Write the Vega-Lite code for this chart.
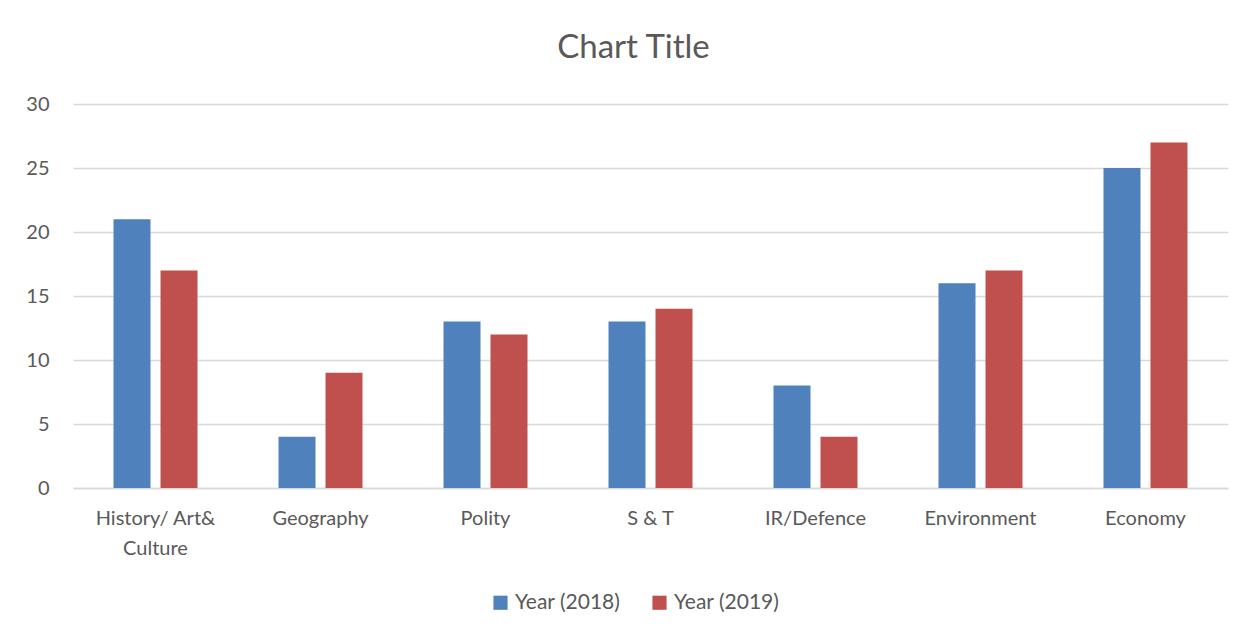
{
  "$schema": "https://vega.github.io/schema/vega-lite/v6.json",
  "width": 1155,
  "height": 384,
  "autosize": {"type": "none"},
  "padding": {"left": 73, "top": 104, "right": 24, "bottom": 147},
  "background": "white",
  "title": {
    "text": "Chart Title",
    "font": "Lato",
    "fontSize": 33,
    "fontWeight": "normal",
    "color": "#595959",
    "anchor": "middle",
    "dx": -17,
    "offset": 29
  },
  "data": {
    "values": [
      {"topic": "History/ Art& Culture", "series": "Year (2018)", "value": 21},
      {"topic": "History/ Art& Culture", "series": "Year (2019)", "value": 17},
      {"topic": "Geography", "series": "Year (2018)", "value": 4},
      {"topic": "Geography", "series": "Year (2019)", "value": 9},
      {"topic": "Polity", "series": "Year (2018)", "value": 13},
      {"topic": "Polity", "series": "Year (2019)", "value": 12},
      {"topic": "S & T", "series": "Year (2018)", "value": 13},
      {"topic": "S & T", "series": "Year (2019)", "value": 14},
      {"topic": "IR/Defence", "series": "Year (2018)", "value": 8},
      {"topic": "IR/Defence", "series": "Year (2019)", "value": 4},
      {"topic": "Environment", "series": "Year (2018)", "value": 16},
      {"topic": "Environment", "series": "Year (2019)", "value": 17},
      {"topic": "Economy", "series": "Year (2018)", "value": 25},
      {"topic": "Economy", "series": "Year (2019)", "value": 27}
    ]
  },
  "mark": {"type": "bar"},
  "encoding": {
    "x": {
      "field": "topic",
      "type": "nominal",
      "sort": null,
      "scale": {"paddingInner": 0.4909, "paddingOuter": 0.2455},
      "axis": {
        "title": null,
        "labelAngle": 0,
        "labelFont": "Lato",
        "labelFontSize": 20,
        "labelColor": "#595959",
        "labelPadding": 20,
        "labelLineHeight": 30,
        "labelExpr": "datum.label == 'History/ Art& Culture' ? ['History/ Art&', 'Culture'] : datum.label",
        "ticks": false,
        "domainColor": "#d9d9d9",
        "domainWidth": 1.5
      }
    },
    "xOffset": {
      "field": "series",
      "type": "nominal",
      "scale": {"paddingInner": 0.2128, "paddingOuter": 0}
    },
    "y": {
      "field": "value",
      "type": "quantitative",
      "scale": {"domain": [0, 30], "nice": false},
      "axis": {
        "title": null,
        "values": [0, 5, 10, 15, 20, 25, 30],
        "labelFont": "Lato",
        "labelFontSize": 20,
        "labelColor": "#595959",
        "labelPadding": 24,
        "ticks": false,
        "domain": false,
        "gridColor": "#d9d9d9",
        "gridWidth": 1.5
      }
    },
    "color": {
      "field": "series",
      "type": "nominal",
      "scale": {"domain": ["Year (2018)", "Year (2019)"], "range": ["#4f81bd", "#c0504d"]},
      "legend": {
        "title": null,
        "orient": "none",
        "direction": "horizontal",
        "legendX": 417,
        "legendY": 488,
        "symbolType": "square",
        "symbolSize": 200,
        "symbolStrokeWidth": 0,
        "labelFont": "Lato",
        "labelFontSize": 21,
        "labelColor": "#595959",
        "labelOffset": 4,
        "columnPadding": 28
      }
    }
  },
  "config": {"view": {"stroke": null}}
}
